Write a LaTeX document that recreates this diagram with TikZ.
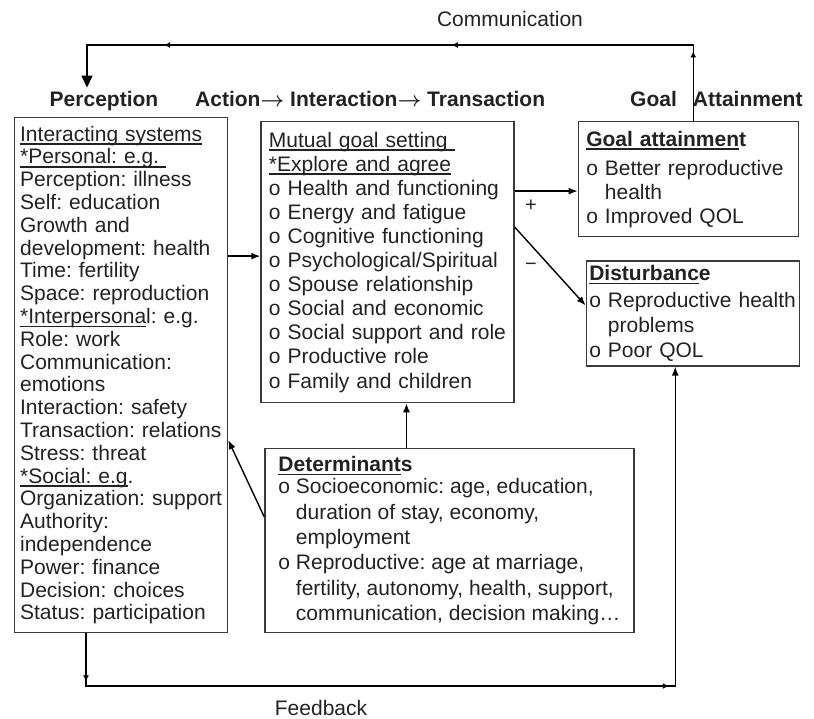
\documentclass[tikz,border=0pt]{standalone}
\usepackage{fontspec}
\setmainfont{Liberation Sans}
\usetikzlibrary{positioning,arrows.meta,decorations.markings}

\definecolor{ink}{HTML}{222222}
\definecolor{frame}{HTML}{3A3A3A}

% Word-style underline, sits just under the baseline
\newcommand{\ulined}[1]{\leavevmode\setbox0=\hbox{#1}\rlap{\rule[-3.6pt]{\wd0}{1.4pt}}\box0}
% hanging indent for wrapped bullet lines
\newcommand{\contline}{\hphantom{o\ }}
% arrow between the phases
\newcommand{\boldsymbol}[1]{\mbox{\boldmath$#1$}}
\newcommand{\phasearrow}{$\boldsymbol{\rightarrow}$}

\frenchspacing
\hyphenpenalty=10000
\exhyphenpenalty=10000

\begin{document}
\begin{tikzpicture}[x=1pt, y=1pt,
    box/.style={draw=frame, line width=1.3pt, anchor=north west, align=left, text=ink, inner ysep=0pt, font=\fontsize{21}{25}\selectfont},
    heading/.style={font=\bfseries\fontsize{21}{25}\selectfont, text=ink, anchor=base, inner sep=4pt},
    caption/.style={font=\fontsize{21}{25}\selectfont, text=ink, anchor=base},
    sign/.style={font=\fontsize{20}{22}\selectfont, text=ink},
    flow/.style={line width=1.4pt, -{Latex[length=9pt,width=7pt]}},
    commpath/.style={line width=1.4pt, -{Triangle[length=12pt,width=11pt]}, postaction={decorate},
      decoration={markings,
        mark=at position 0.096 with {\arrow{Latex[length=6pt,width=6pt]}},
        mark=at position 0.438 with {\arrow{Latex[length=6pt,width=6pt]}},
        mark=at position 0.835 with {\arrow{Latex[length=6pt,width=6pt]}}}},
    fbpath/.style={flow, postaction={decorate},
      decoration={markings,
        mark=at position 0.05 with {\arrow{Latex[length=6pt,width=6pt]}},
        mark=at position 0.661 with {\arrow{Latex[length=6pt,width=6pt]}}}}
  ]
    \useasboundingbox (0,0) rectangle (814,718);

    % Header row.
    \node[heading] (perception) at (104,611) {Perception};
    \node[heading, anchor=base west] (process) at (191,611) {Action\phasearrow\ Interaction\phasearrow\ Transaction};
    \node[heading, anchor=base west] (goalhead) at (626,611) {Goal\hspace{16pt}Attainment};

    % Interacting systems.
    \node[box, text width=202pt, inner xsep=5.5pt, minimum height=515pt, font=\fontsize{21}{22.8}\selectfont] (systems) at (14,601) {%
      \ulined{Interacting systems}\\
      \ulined{*Personal: e.g.\ }\\
      Perception: illness\\
      Self: education\\
      Growth and\\
      development: health\\
      Time: fertility\\
      Space: reproduction\\
      \ulined{*Interpersona}l: e.g.\\
      Role: work\\
      Communication:\\
      emotions\\
      Interaction: safety\\
      Transaction: relations\\
      Stress: threat\\
      \ulined{*Social: e.g}.\\
      Organization: support\\
      Authority:\\
      independence\\
      Power: finance\\
      Decision: choices\\
      Status: participation};

    % Mutual goal setting.
    \node[box, text width=237pt, inner xsep=8pt, minimum height=281pt, font=\fontsize{21}{24.1}\selectfont] (goalset) at ([xshift=32pt,yshift=-4pt]systems.north east) {%
      \ulined{Mutual goal setting\ }\\
      \ulined{*Explore and agree}\\
      o Health and functioning\\
      o Energy and fatigue\\
      o Cognitive functioning\\
      o Psychological/Spiritual\\
      o Spouse relationship\\
      o Social and economic\\
      o Social support and role\\
      o Productive role\\
      o Family and children};

    % Outcomes.
    \node[box, text width=204pt, inner xsep=8pt, minimum height=115pt, font=\fontsize{21}{24}\selectfont] (attain) at ([xshift=63pt]goalset.north east) {%
      \textbf{\ulined{Goal attainmen}t}\\[5pt]
      o Better reproductive\\
      \contline health\\
      o Improved QOL};
    \node[box, anchor=north east, text width=207pt, inner xsep=3pt, minimum height=105pt] (disturb) at ([xshift=1pt,yshift=-23pt]attain.south east) {%
      \textbf{\ulined{Disturbanc}e}\\[2pt]
      o Reproductive health\\
      \contline problems\\
      o Poor QOL};

    % Determinants (natural width, centred in the frame).
    \node[box, anchor=south west, inner xsep=0pt, minimum width=369pt, minimum height=184pt, font=\fontsize{21}{25.3}\selectfont] (determ) at ([xshift=36pt]systems.south east) {%
      \textbf{\ulined{Determinant}s}\\[-3pt]
      o Socioeconomic: age, education,\\
      \contline duration of stay, economy,\\
      \contline employment\\
      o Reproductive: age at marriage,\\
      \contline fertility, autonomy, health, support,\\
      \contline communication, decision making…};

    % Arrows between boxes.
    \draw[flow] ([yshift=6pt]goalset.west -| systems.east) -- ([yshift=6pt]goalset.west);
    \draw[flow] ([yshift=-12pt]attain.west -| goalset.east) -- ([yshift=-12pt]attain.west);
    \draw[flow] ([yshift=-106pt]goalset.north east) -- ([yshift=8pt]disturb.west);
    \draw[flow] ([xshift=-43pt]determ.north) -- ([xshift=-43pt]determ.north |- goalset.south);
    \draw[flow] ([yshift=-69pt]determ.north west) -- ([yshift=-65pt]systems.east);
    \node[sign] (plus) at (531,512) {+};
    \node[sign] (minus) at (531,451) {−};

    % Communication back to perception.
    \coordinate (commcorner) at (87,673);
    \draw[commpath] ([xshift=5pt]attain.north) |- (commcorner) -- (commcorner |- perception.north);
    \node[caption] (commlabel) at (510,691) {Communication};

    % Feedback to disturbance.
    \coordinate (fbcorner) at (86,32);
    \draw[fbpath] (systems.south -| fbcorner) -- (fbcorner) -| ([xshift=-17.5pt]disturb.south);
    \node[caption] (fblabel) at (321,3) {Feedback};
\end{tikzpicture}
\end{document}
